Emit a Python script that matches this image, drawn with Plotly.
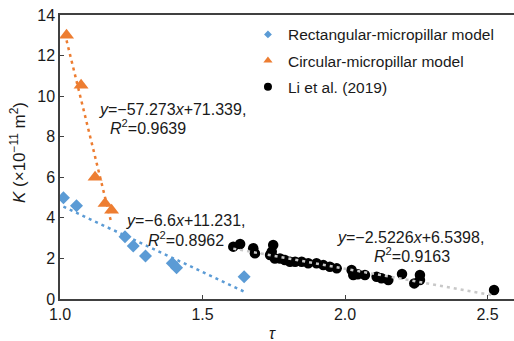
import plotly.graph_objects as go

# Rectangular-micropillar model
rect_x = [1.012, 1.058, 1.228, 1.257, 1.300, 1.394, 1.409, 1.646]
rect_y = [4.99, 4.60, 3.07, 2.61, 2.12, 1.76, 1.54, 1.10]
rect_fit = (-6.6, 11.231)

# Circular-micropillar model
circ_x = [1.023, 1.074, 1.123, 1.158, 1.181]
circ_y = [13.0, 10.54, 6.0, 4.71, 4.38]
circ_fit = (-57.273, 71.339)

# Li et al. (2019)
li_x = [1.608, 1.632, 1.678, 1.684, 1.737, 1.743, 1.748, 1.754, 1.772, 1.789,
        1.807, 1.825, 1.848, 1.871, 1.900, 1.924, 1.947, 1.971, 2.023, 2.029,
        2.045, 2.070, 2.111, 2.128, 2.152, 2.200, 2.243, 2.263, 2.263, 2.523]
li_y = [2.58, 2.71, 2.50, 2.25, 2.17, 2.33, 2.66, 2.00, 2.00, 1.92,
        1.84, 1.84, 1.84, 1.76, 1.76, 1.67, 1.59, 1.51, 1.43, 1.18,
        1.22, 1.18, 1.10, 1.02, 0.94, 1.23, 0.77, 1.18, 0.94, 0.44]
li_fit = (-2.5226, 6.5398)

series_names = ["Rectangular-micropillar model", "Circular-micropillar model", "Li et al. (2019)"]

BLUE = "#5b9bd5"
ORANGE = "#ed7d31"
FONT = "Arial, Liberation Sans, sans-serif"
TXT = "#1a1a1a"

def fit_line(xs, fit):
    x0, x1 = min(xs), max(xs)
    return [x0, x1], [fit[0] * x0 + fit[1], fit[0] * x1 + fit[1]]

fig = go.Figure()
specs = [
    (rect_x, rect_y, "diamond", 10, BLUE, 6),
    (circ_x, circ_y, "triangle-up", 13, ORANGE, 8),
    (li_x, li_y, "circle", 10.5, "black", 8),
]
for (xs, ys, sym, sz, col, lsz), nm in zip(specs, series_names):
    fig.add_trace(go.Scatter(x=xs, y=ys, mode="markers", name=nm, showlegend=False,
                             marker=dict(symbol=sym, size=sz, color=col)))

for xs, fit, col in [(rect_x, rect_fit, BLUE), (circ_x, circ_fit, ORANGE), (li_x, li_fit, "#c8c8c8")]:
    lx, ly = fit_line(xs, fit)
    fig.add_trace(go.Scatter(x=lx, y=ly, mode="lines", showlegend=False,
                             line=dict(color=col, width=2.5, dash="3px,4px")))

# legend entries (small markers, as in the reference legend)
for i, ((xs, ys, sym, sz, col, lsz), nm) in enumerate(zip(specs, series_names)):
    fig.add_trace(go.Scatter(x=[None], y=[None], mode="markers", name=nm, legendgroup=f"g{i}",
                             marker=dict(symbol=sym, size=lsz, color=col)))

ann = [
    (1.130, 9.36, "<i>y</i>=−57.273<i>x</i>+71.339,"),
    (1.168, 8.50, "<i>R</i><sup>2</sup>=0.9639"),
    (1.2246, 3.89, "<i>y</i>=−6.6<i>x</i>+11.231,"),
    (1.302, 2.98, "<i>R</i><sup>2</sup>=0.8962"),
    (1.965, 3.05, "<i>y</i>=−2.5226<i>x</i>+6.5398,"),
    (2.095, 2.15, "<i>R</i><sup>2</sup>=0.9163"),
]
for ax_, ay_, t in ann:
    fig.add_annotation(x=ax_, y=ay_, xref="x", yref="y", text=t, showarrow=False,
                       xanchor="left", yanchor="middle", font=dict(size=16, color=TXT, family=FONT))

fig.add_annotation(x=0.469, y=-0.12, xref="paper", yref="paper", text="<i>τ</i>", showarrow=False,
                   xanchor="center", yanchor="middle", font=dict(size=16, color=TXT, family=FONT))
fig.add_annotation(x=-0.0925, y=0.514, xref="paper", yref="paper", textangle=-90,
                   text="<i>K</i> (×10<sup>−11</sup> m<sup>2</sup>)", showarrow=False,
                   xanchor="center", yanchor="middle", font=dict(size=17, color=TXT, family=FONT))

fig.update_layout(
    width=514, height=341,
    margin=dict(l=60, r=0, t=15, b=42),
    plot_bgcolor="white", paper_bgcolor="white",
    font=dict(family=FONT, size=16, color=TXT),
    showlegend=True,
    legend=dict(x=0.414, y=0.99, xanchor="left", yanchor="top", bgcolor="rgba(0,0,0,0)",
                font=dict(size=15.5, family=FONT, color=TXT), traceorder="grouped", tracegroupgap=3),
    xaxis=dict(range=[1.0, 2.593], tickvals=[1.0, 1.5, 2.0, 2.5], ticktext=["1.0", "1.5", "2.0", "2.5"],
               showgrid=False, zeroline=False, showline=True, linecolor="#404040", linewidth=1.5,
               mirror=True, ticks="inside", ticklen=4, tickcolor="#404040", tickfont=dict(size=16)),
    yaxis=dict(range=[0, 14], tickvals=[0, 2, 4, 6, 8, 10, 12, 14],
               showgrid=False, zeroline=False, showline=True, linecolor="#404040", linewidth=1.5,
               ticks="inside", ticklen=4, tickcolor="#404040", tickfont=dict(size=16)),
)

fig.write_html("out.html")
